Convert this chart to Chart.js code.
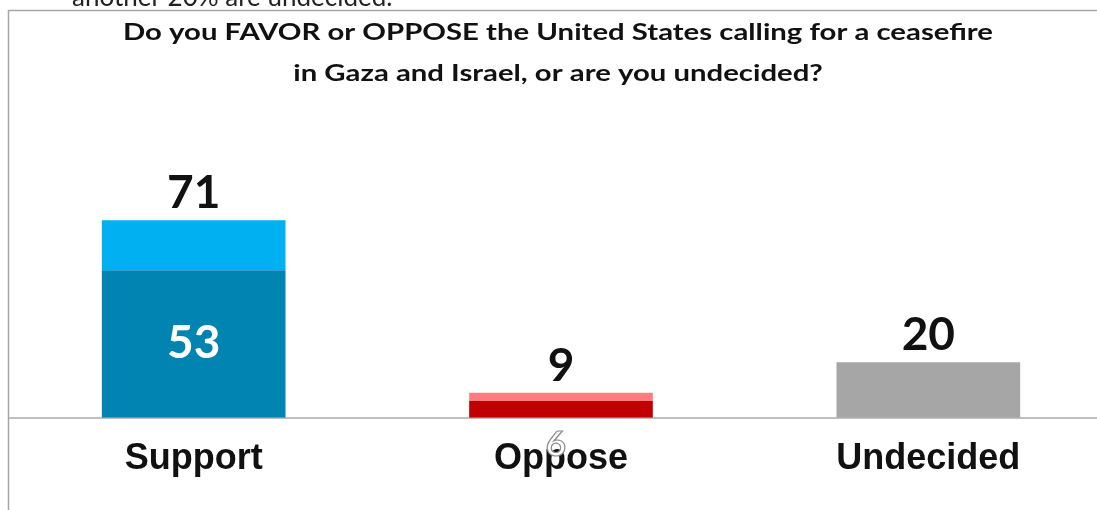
<!DOCTYPE html>
<html lang="en">
<head>
    <meta charset="UTF-8">
    <title>Ceasefire Poll</title>
    <style>
        html, body { margin: 0; padding: 0; background: #fff; overflow: hidden; }
        #chartContainer {
            position: absolute;
            left: 0;
            top: 0;
            width: 1112px;
            height: 510px;
        }
    </style>
</head>
<body>
    <div id="chartContainer">
        <canvas id="pollChart"></canvas>
    </div>

    <script src="https://cdn.jsdelivr.net/npm/chart.js"></script>
    <script>
        // Poll answers
        const categories = ['Support', 'Oppose', 'Undecided'];
        const strongly = [53, 6, 20];
        const somewhat = [18, 3, 0];
        const totals = [71, 9, 20];
        const innerLabels = ['53', '6', ''];

        const titleLines = [
            'Do you FAVOR or OPPOSE the United States calling for a ceasefire',
            'in Gaza and Israel, or are you undecided?'
        ];
        const clippedLine = 'another 20% are undecided.';

        const darkColors = ['#0284B3', '#C00000', '#A6A6A6'];
        const lightColors = ['#00B0F0', '#FF7C80', '#A6A6A6'];

        const labelFont = 'bold 46px Lato, "Open Sans", sans-serif';

        // frame, title and value labels
        const decorations = {
            id: 'decorations',
            beforeDraw(chart) {
                const c = chart.ctx;
                c.save();
                c.strokeStyle = '#A6A6A6';
                c.lineWidth = 1.5;
                c.beginPath();
                c.moveTo(8.5, 510);
                c.lineTo(8.5, 10.5);
                c.lineTo(chart.width, 10.5);
                c.stroke();

                c.fillStyle = '#222';
                c.font = '26px Lato, "Open Sans", sans-serif';
                c.textAlign = 'left';
                c.textBaseline = 'alphabetic';
                c.fillText(clippedLine, 72, 6);

                // title, stretched to the width of the original
                c.fillStyle = '#111';
                c.font = 'bold 23px Lato, "Open Sans", sans-serif';
                c.textAlign = 'center';
                const sx = 870 / c.measureText(titleLines[0]).width;
                c.translate(558, 0);
                c.scale(sx, 1);
                c.fillText(titleLines[0], 0, 40);
                c.fillText(titleLines[1], 0, 81);
                c.restore();
            },
            afterDatasetsDraw(chart) {
                const c = chart.ctx;
                const low = chart.getDatasetMeta(0);
                const yScale = chart.scales.y;
                c.save();
                c.textAlign = 'center';
                c.textBaseline = 'alphabetic';
                c.font = labelFont;
                categories.forEach((cat, i) => {
                    const x = low.data[i].x;
                    const top = yScale.getPixelForValue(totals[i]);
                    c.fillStyle = '#111';
                    c.fillText(String(totals[i]), x, top - 12);
                });
                // inner value on Support
                const s = low.data[0];
                c.fillStyle = '#fff';
                c.fillText(innerLabels[0], s.x, (s.y + s.base) / 2 + 14);
                c.restore();
            },
            afterDraw(chart) {
                // stray inner label of Oppose that spills below the axis
                const c = chart.ctx;
                const o = chart.getDatasetMeta(0).data[1];
                c.save();
                c.textAlign = 'center';
                c.textBaseline = 'alphabetic';
                c.font = 'bold 35px Lato, "Open Sans", sans-serif';
                c.lineWidth = 1.2;
                c.strokeStyle = '#8a8a8a';
                c.fillStyle = '#fff';
                c.fillText(innerLabels[1], o.x - 5, o.base + 38);
                c.strokeText(innerLabels[1], o.x - 5, o.base + 38);
                c.restore();
            }
        };

        const ctx = document.getElementById('pollChart').getContext('2d');
        new Chart(ctx, {
            type: 'bar',
            data: {
                labels: categories,
                datasets: [
                    {
                        label: 'Strongly',
                        data: strongly,
                        backgroundColor: darkColors,
                        borderWidth: 0
                    },
                    {
                        label: 'Somewhat',
                        data: somewhat,
                        backgroundColor: lightColors,
                        borderWidth: 0
                    }
                ]
            },
            options: {
                responsive: true,
                maintainAspectRatio: false,
                animation: false,
                categoryPercentage: 1,
                barPercentage: 0.5,
                layout: {
                    padding: { left: 10, right: 0, top: 139.5, bottom: 9 }
                },
                plugins: {
                    legend: { display: false },
                    tooltip: { enabled: false },
                    title: { display: false }
                },
                scales: {
                    x: {
                        stacked: true,
                        grid: { display: false, drawTicks: false },
                        border: { display: true, color: '#BFBFBF', width: 2 },
                        ticks: {
                            color: '#111',
                            padding: 20,
                            font: { family: '"Liberation Sans", Arial, sans-serif', size: 36, weight: 'bold' }
                        }
                    },
                    y: {
                        stacked: true,
                        display: false,
                        min: 0,
                        max: 100
                    }
                }
            },
            plugins: [decorations]
        });
    </script>
</body>
</html>
